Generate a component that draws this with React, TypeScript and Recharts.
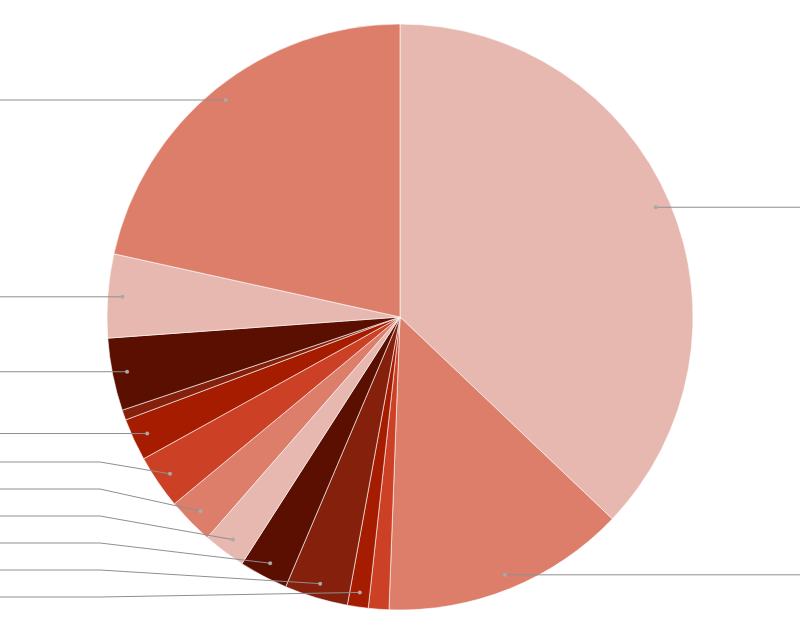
import { PieChart, Pie, Cell } from "recharts";

// Slice values, clockwise from 12 o'clock (percent of total)
const sliceNames = [
  "S1", "S2", "S3", "S4", "S5", "S6", "S7",
  "S8", "S9", "S10", "S11", "S12", "S13", "S14",
];
const sliceValues = [
  37.1, 13.5, 1.13, 1.15, 3.5, 2.69, 2.36,
  2.56, 2.97, 2.33, 0.56, 4.0, 4.61, 21.54,
];
// which slices carry a leader line (the tiny ones don't)
const sliceLabelled = [
  true, true, false, true, true, true, true,
  true, true, true, false, true, true, true,
];
const palette = ["#e6b8af", "#dd7e6b", "#cc4125", "#a61c00", "#85200c", "#5b0f00"];

const W = 800;
const H = 626;
const CX = 400;
const CY = 317;
const OUTER = 293;
const DOT_R = OUTER * 0.95;
const GAP = 27;
const BOTTOM = 597;

const data = sliceNames.map((name, i) => ({ name, value: sliceValues[i] }));

// label layout: dot at 95% radius, labels on each side pushed apart vertically
function layoutLabels() {
  const total = sliceValues.reduce((a, b) => a + b, 0);
  let acc = 0;
  const items = sliceValues.map((v, i) => {
    const mid = 90 - ((acc + v / 2) / total) * 360;
    acc += v;
    const rad = (-mid * Math.PI) / 180;
    const x = CX + DOT_R * Math.cos(rad);
    const y = CY + DOT_R * Math.sin(rad);
    return { i, x, y, ly: y, left: x < CX };
  });
  const out: number[] = items.map((it) => it.y);
  [true, false].forEach((side) => {
    const group = items
      .filter((it) => it.left === side && sliceLabelled[it.i])
      .sort((a, b) => a.y - b.y);
    for (let k = 1; k < group.length; k++) {
      group[k].ly = Math.max(group[k].y, group[k - 1].ly + GAP);
    }
    for (let k = group.length - 1; k >= 0; k--) {
      const lim = k === group.length - 1 ? BOTTOM : group[k + 1].ly - GAP;
      group[k].ly = Math.min(group[k].ly, lim);
    }
    group.forEach((it) => (out[it.i] = it.ly));
  });
  return out;
}

const labelY = layoutLabels();

function LeaderLabel(props: any) {
  const { cx, cy, midAngle, index } = props;
  if (!sliceLabelled[index]) return null;
  const rad = (-midAngle * Math.PI) / 180;
  const x = cx + DOT_R * Math.cos(rad);
  const y = cy + DOT_R * Math.sin(rad);
  const left = x < cx;
  const ly = labelY[index];
  const elbowX = left ? 100 : 700;
  const endX = left ? -20 : W + 20;
  return (
    <g>
      <polyline
        points={`${x},${y} ${elbowX},${ly} ${endX},${ly}`}
        fill="none"
        stroke="#8f8f8f"
        strokeWidth={1}
      />
      <circle cx={x} cy={y} r={2} fill="#a9a9a9" />
    </g>
  );
}

export default function App() {
  return (
    <div style={{ position: "fixed", left: 0, top: 0, width: W, height: H, background: "#fff" }}>
      <PieChart width={W} height={H} margin={{ top: 0, right: 0, bottom: 0, left: 0 }}>
        <Pie
          data={data}
          dataKey="value"
          nameKey="name"
          cx={CX}
          cy={CY}
          outerRadius={OUTER}
          startAngle={90}
          endAngle={-270}
          stroke="#ffffff"
          strokeWidth={0.6}
          label={LeaderLabel}
          labelLine={false}
          isAnimationActive={false}
        >
          {data.map((d, i) => (
            <Cell key={d.name} fill={palette[i % palette.length]} />
          ))}
        </Pie>
      </PieChart>
    </div>
  );
}
